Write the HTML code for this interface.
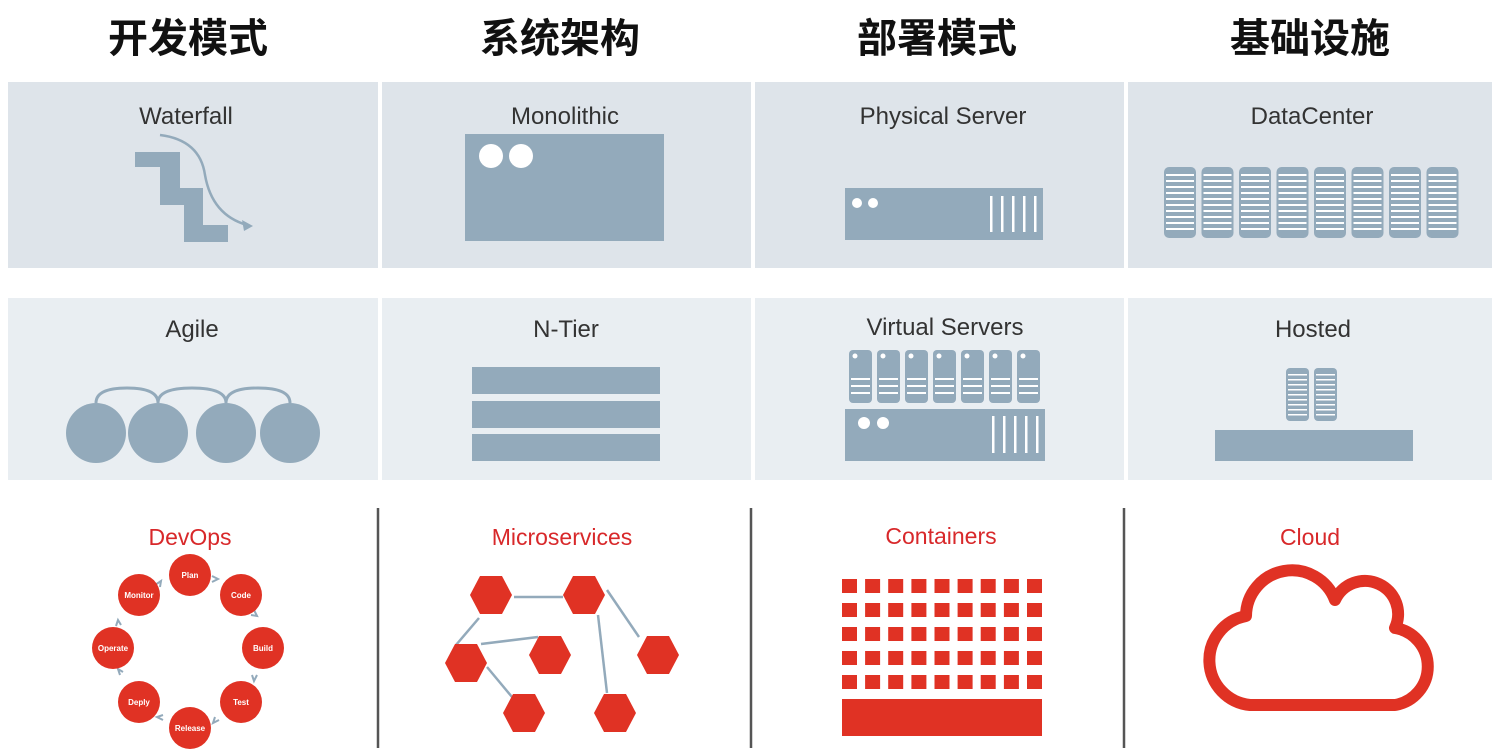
<!DOCTYPE html>
<html><head><meta charset="utf-8"><style>
html,body{margin:0;padding:0;background:#fff;}
svg{display:block;}
.t{font-family:"Liberation Sans","Noto Sans CJK SC",sans-serif;font-weight:bold;font-size:40px;fill:#111;text-anchor:middle;}
.l{font-family:"Liberation Sans",sans-serif;font-size:24px;fill:#333;text-anchor:middle;}
.r{font-family:"Liberation Sans",sans-serif;font-size:23px;fill:#d8282a;text-anchor:middle;}
.d{font-family:"Liberation Sans",sans-serif;font-size:8px;font-weight:bold;fill:#fff;text-anchor:middle;}
</style></head><body>
<svg width="1500" height="755" viewBox="0 0 1500 755" xmlns="http://www.w3.org/2000/svg">
<defs>
<polygon id="hx" points="-21,0 -11,-19 11,-19 21,0 11,19 -11,19" fill="#e03224"/>
<g id="rk">
<rect x="1164" y="167" width="32" height="71" rx="5" fill="#93aabb"/>
<g fill="#fff">
<rect x="1166" y="174" width="28" height="2"/><rect x="1166" y="180" width="28" height="2"/><rect x="1166" y="186" width="28" height="2"/><rect x="1166" y="192" width="28" height="2"/><rect x="1166" y="198" width="28" height="2"/><rect x="1166" y="204" width="28" height="2"/><rect x="1166" y="210" width="28" height="2"/><rect x="1166" y="216" width="28" height="2"/><rect x="1166" y="222" width="28" height="2"/><rect x="1166" y="228" width="28" height="2"/>
</g></g>
<g id="vr">
<rect x="849" y="350" width="23" height="53" rx="4" fill="#93aabb"/>
<circle cx="855" cy="356" r="2.5" fill="#fff"/>
<rect x="851" y="378" width="19" height="2" fill="#fff"/><rect x="851" y="385" width="19" height="2" fill="#fff"/><rect x="851" y="392" width="19" height="2" fill="#fff"/>
</g>
<g id="crow" fill="#e03224">
<rect x="842" y="579" width="15" height="14"/><rect x="865.1" y="579" width="15" height="14"/><rect x="888.2" y="579" width="15" height="14"/><rect x="911.4" y="579" width="15" height="14"/><rect x="934.5" y="579" width="15" height="14"/><rect x="957.6" y="579" width="15" height="14"/><rect x="980.7" y="579" width="15" height="14"/><rect x="1003.9" y="579" width="15" height="14"/><rect x="1027" y="579" width="15" height="14"/>
</g>
</defs>
<text class="t" x="188" y="52">开发模式</text>
<text class="t" x="560" y="52">系统架构</text>
<text class="t" x="937" y="52">部署模式</text>
<text class="t" x="1310" y="52">基础设施</text>
<g fill="#dee4ea">
<rect x="8" y="82" width="370" height="186"/><rect x="382" y="82" width="369" height="186"/>
<rect x="755" y="82" width="369" height="186"/><rect x="1128" y="82" width="364" height="186"/>
</g>
<g fill="#e9eef2">
<rect x="8" y="298" width="370" height="182"/><rect x="382" y="298" width="369" height="182"/>
<rect x="755" y="298" width="369" height="182"/><rect x="1128" y="298" width="364" height="182"/>
</g>
<text class="l" x="186" y="124">Waterfall</text>
<text class="l" x="565" y="124">Monolithic</text>
<text class="l" x="943" y="124">Physical Server</text>
<text class="l" x="1312" y="124">DataCenter</text>
<text class="l" x="192" y="337">Agile</text>
<text class="l" x="566" y="337">N-Tier</text>
<text class="l" x="945" y="335">Virtual Servers</text>
<text class="l" x="1313" y="337">Hosted</text>
<g fill="#93aabb">
<polygon points="135,152 180,152 180,188 203,188 203,225 228,225 228,242 184,242 184,205 160,205 160,167 135,167"/>
<rect x="465" y="134" width="199" height="107"/>
<rect x="845" y="188" width="198" height="52"/>
<rect x="472" y="367" width="188" height="27"/><rect x="472" y="401" width="188" height="27"/><rect x="472" y="434" width="188" height="27"/>
<circle cx="96" cy="433" r="30"/><circle cx="158" cy="433" r="30"/><circle cx="226" cy="433" r="30"/><circle cx="290" cy="433" r="30"/>
<rect x="845" y="409" width="200" height="52"/>
<rect x="1286" y="368" width="23" height="53" rx="4"/><rect x="1314" y="368" width="23" height="53" rx="4"/>
<rect x="1215" y="430" width="198" height="31"/>
</g>
<path d="M160,135 Q200,140 205,175 Q212,215 247,225" fill="none" stroke="#93aabb" stroke-width="2.5"/>
<polygon points="253,226 242,220 244,231" fill="#93aabb"/>
<g fill="none" stroke="#93aabb" stroke-width="3">
<path d="M96,403 Q96,388 127,388 Q158,388 158,403"/>
<path d="M158,403 Q158,388 192,388 Q226,388 226,403"/>
<path d="M226,403 Q226,388 258,388 Q290,388 290,403"/>
</g>
<g fill="#fff">
<circle cx="491" cy="156" r="12"/><circle cx="521" cy="156" r="12"/>
<circle cx="857" cy="203" r="5"/><circle cx="873" cy="203" r="5"/>
<rect x="990" y="196" width="2.5" height="36"/><rect x="1001" y="196" width="2.5" height="36"/><rect x="1012" y="196" width="2.5" height="36"/><rect x="1023" y="196" width="2.5" height="36"/><rect x="1034" y="196" width="2.5" height="36"/>
<circle cx="864" cy="423" r="6"/><circle cx="883" cy="423" r="6"/>
<rect x="992" y="416" width="2.5" height="37"/><rect x="1003" y="416" width="2.5" height="37"/><rect x="1014" y="416" width="2.5" height="37"/><rect x="1025" y="416" width="2.5" height="37"/><rect x="1036" y="416" width="2.5" height="37"/>
</g>
<use href="#rk"/><use href="#rk" x="37.5"/><use href="#rk" x="75"/><use href="#rk" x="112.5"/><use href="#rk" x="150"/><use href="#rk" x="187.5"/><use href="#rk" x="225"/><use href="#rk" x="262.5"/>
<use href="#vr"/><use href="#vr" x="28"/><use href="#vr" x="56"/><use href="#vr" x="84"/><use href="#vr" x="112"/><use href="#vr" x="140"/><use href="#vr" x="168"/>
<g fill="#fff">
<rect x="1288" y="374" width="19" height="1.5"/><rect x="1288" y="379" width="19" height="1.5"/><rect x="1288" y="384" width="19" height="1.5"/><rect x="1288" y="389" width="19" height="1.5"/><rect x="1288" y="394" width="19" height="1.5"/><rect x="1288" y="399" width="19" height="1.5"/><rect x="1288" y="404" width="19" height="1.5"/><rect x="1288" y="409" width="19" height="1.5"/><rect x="1288" y="414" width="19" height="1.5"/>
<rect x="1316" y="374" width="19" height="1.5"/><rect x="1316" y="379" width="19" height="1.5"/><rect x="1316" y="384" width="19" height="1.5"/><rect x="1316" y="389" width="19" height="1.5"/><rect x="1316" y="394" width="19" height="1.5"/><rect x="1316" y="399" width="19" height="1.5"/><rect x="1316" y="404" width="19" height="1.5"/><rect x="1316" y="409" width="19" height="1.5"/><rect x="1316" y="414" width="19" height="1.5"/>
</g>
<g stroke="#555" stroke-width="2.5">
<line x1="378" y1="508" x2="378" y2="748"/><line x1="751" y1="508" x2="751" y2="748"/><line x1="1124" y1="508" x2="1124" y2="748"/>
</g>
<text class="r" x="190" y="545">DevOps</text>
<text class="r" x="562" y="545">Microservices</text>
<text class="r" x="941" y="544">Containers</text>
<text class="r" x="1310" y="545">Cloud</text>
<g fill="none" stroke="#93aabb" stroke-width="2">
<path d="M155,585 l6,-4 l-1,6"/><path d="M212,576 l6,3 l-6,3"/><path d="M254,610 l3,6 l-6,-1"/><path d="M257,675 l-3,6 l-2,-6"/>
<path d="M219,720 l-6,3 l2,-6"/><path d="M163,720 l-6,-3 l6,-2"/><path d="M120,675 l-2,-6 l5,3"/><path d="M116,626 l2,-6 l3,5"/>
</g>
<g fill="#e03224">
<circle cx="190" cy="575" r="21"/><circle cx="241" cy="595" r="21"/><circle cx="263" cy="648" r="21"/><circle cx="241" cy="702" r="21"/>
<circle cx="190" cy="728" r="21"/><circle cx="139" cy="702" r="21"/><circle cx="113" cy="648" r="21"/><circle cx="139" cy="595" r="21"/>
</g>
<text class="d" x="190" y="578">Plan</text><text class="d" x="241" y="598">Code</text><text class="d" x="263" y="651">Build</text><text class="d" x="241" y="705">Test</text>
<text class="d" x="190" y="731">Release</text><text class="d" x="139" y="705">Deply</text><text class="d" x="113" y="651">Operate</text><text class="d" x="139" y="598">Monitor</text>
<g stroke="#93aabb" stroke-width="2.5">
<line x1="514" y1="597" x2="563" y2="597"/><line x1="479" y1="618" x2="456" y2="645"/><line x1="481" y1="644" x2="538" y2="637"/>
<line x1="598" y1="615" x2="607" y2="693"/><line x1="607" y1="590" x2="639" y2="637"/><line x1="487" y1="667" x2="512" y2="697"/>
</g>
<use href="#hx" transform="translate(491,595)"/><use href="#hx" transform="translate(584,595)"/><use href="#hx" transform="translate(466,663)"/>
<use href="#hx" transform="translate(550,655)"/><use href="#hx" transform="translate(658,655)"/><use href="#hx" transform="translate(524,713)"/><use href="#hx" transform="translate(615,713)"/>
<use href="#crow"/><use href="#crow" y="24"/><use href="#crow" y="48"/><use href="#crow" y="72"/><use href="#crow" y="96"/>
<rect x="842" y="699" width="200" height="37" fill="#e03224"/>
<path d="M1250,705 A45,45 0 0 1 1246,616 A46,46 0 0 1 1335,600 A33,33 0 0 1 1395,628 A39,39 0 0 1 1395,705 Z" fill="none" stroke="#e03224" stroke-width="12" stroke-linejoin="round"/>
</svg>
</body></html>
